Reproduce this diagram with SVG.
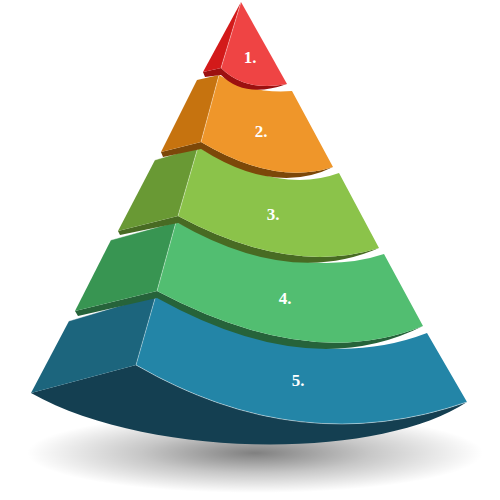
<svg xmlns="http://www.w3.org/2000/svg" width="500" height="500" viewBox="0 0 500 500">
<defs>
<radialGradient id="sh" cx="0.5" cy="0.5" r="0.5">
<stop offset="0" stop-color="#000" stop-opacity="0.5"/>
<stop offset="0.5" stop-color="#000" stop-opacity="0.22"/>
<stop offset="1" stop-color="#000" stop-opacity="0"/>
</radialGradient>
</defs>
<style>
.lbl{font-family:"Liberation Serif","DejaVu Serif",serif;font-weight:bold;font-size:17px;fill:#fff;text-anchor:middle}
.edge{fill:none;stroke:#fff;stroke-opacity:0.45;stroke-width:0.8}
.hl{fill:none;stroke:#fff;stroke-opacity:0.55;stroke-width:0.8}
</style>
<rect width="500" height="500" fill="#fff"/>
<ellipse cx="255" cy="453" rx="228" ry="40" fill="url(#sh)"/>

<g id="tier5">
<path d="M31,393 L136,365 Q300,460 467,402 C380,460 150,460 31,393 Z" fill="#143f51"/>
<path d="M69,321 L156,295 L136,365 L31,393 Z" fill="#1c657d"/>
<path d="M156,295 Q310,378 427,333 L467,402 Q300,460 136,365 Z" fill="#2385a7"/>
<path class="edge" d="M156,295 L136,365"/>
<path class="hl" d="M136,365 Q300,460 467,402" stroke-opacity="0.3"/>
<path class="hl" d="M69,321 L156,295"/>
<text class="lbl" x="298" y="386">5.</text>
</g>

<g id="tier4">
<path d="M75,311 L157,291 L157,298 L78,316 Z" fill="#26633a"/>
<path d="M157,291 Q310,372 423,326 Q310,383 157,298 Z" fill="#26633a"/>
<path d="M111,240 L176,222 L157,291 L75,311 Z" fill="#389552"/>
<path d="M176,222 Q300,282 384,254 L423,326 Q310,372 157,291 Z" fill="#52be71"/>
<path class="edge" d="M176,222 L157,291"/>
<path class="hl" d="M111,240 L176,222"/>
<text class="lbl" x="285" y="304">4.</text>
</g>

<g id="tier3">
<path d="M118,231 L178,216 L178,223 L120,235 Z" fill="#486b23"/>
<path d="M178,216 Q290,276 379,248 Q290,287 178,223 Z" fill="#486b23"/>
<path d="M155,160 L198,147 L178,216 L118,231 Z" fill="#699934"/>
<path d="M198,147 Q280,195 339,173 L379,248 Q290,276 178,216 Z" fill="#8bc34a"/>
<path class="edge" d="M198,147 L178,216"/>
<path class="hl" d="M155,160 L198,147"/>
<text class="lbl" x="273" y="220">3.</text>
</g>

<g id="tier2">
<path d="M161,152 L201,142 L201,149 L163,157 Z" fill="#7c4809"/>
<path d="M201,142 Q275,186 333,167 Q275,196 201,149 Z" fill="#7c4809"/>
<path d="M197,80 L219,75 L201,142 L161,152 Z" fill="#c6730f"/>
<path d="M219,75 Q250,94 292,91 L333,167 Q275,186 201,142 Z" fill="#ef962a"/>
<path class="edge" d="M219,75 L201,142"/>
<text class="lbl" x="261" y="137">2.</text>
</g>

<g id="tier1">
<path d="M203,72 L221,68 L221,75 L205,77 Z" fill="#9c1010"/>
<path d="M221,68 Q245,92 287,84 Q245,99 221,75 Z" fill="#9c1010"/>
<path d="M241,2 L221,68 L203,72 Z" fill="#d31a1a"/>
<path d="M241,2 L287,84 Q245,92 221,68 Z" fill="#ef4444"/>
<path class="edge" d="M241,2 L221,68"/>
<text class="lbl" x="250" y="63">1.</text>
</g>
</svg>
